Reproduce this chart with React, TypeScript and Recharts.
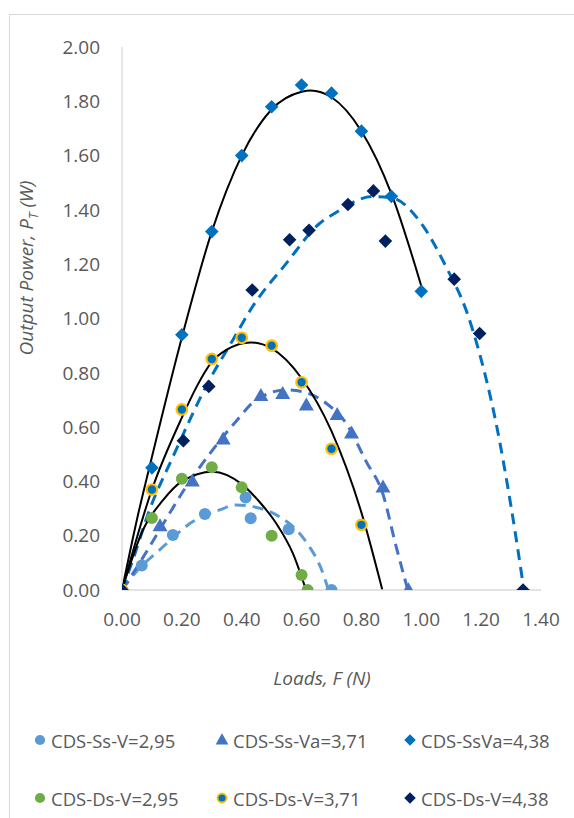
import React from 'react'
import { ComposedChart, Scatter, Line, XAxis, YAxis } from 'recharts'

// measured points (x = load F in N, y = output power in W)
const ssV295X = [0, 0.066, 0.17, 0.277, 0.413, 0.43, 0.557, 0.7]
const ssV295Y = [0, 0.09, 0.203, 0.28, 0.341, 0.264, 0.224, 0]

const ssVa371X = [0, 0.127, 0.235, 0.338, 0.464, 0.537, 0.616, 0.719, 0.767, 0.872, 0.957]
const ssVa371Y = [0, 0.236, 0.4, 0.555, 0.715, 0.723, 0.68, 0.645, 0.577, 0.378, 0]

const ssVa438X = [0, 0.1, 0.2, 0.3, 0.4, 0.5, 0.6, 0.7, 0.8, 0.9, 1.0]
const ssVa438Y = [0, 0.45, 0.94, 1.32, 1.6, 1.78, 1.86, 1.83, 1.69, 1.45, 1.1]

const dsV295X = [0, 0.1, 0.2, 0.3, 0.4, 0.5, 0.6, 0.62]
const dsV295Y = [0, 0.265, 0.41, 0.452, 0.378, 0.2, 0.055, 0]

const dsV371X = [0, 0.1, 0.2, 0.3, 0.4, 0.5, 0.6, 0.7, 0.8]
const dsV371Y = [0, 0.37, 0.665, 0.851, 0.929, 0.9, 0.765, 0.52, 0.24]

const dsV438X = [0, 0.205, 0.29, 0.435, 0.56, 0.625, 0.755, 0.84, 0.88, 1.11, 1.195, 1.34]
const dsV438Y = [0, 0.55, 0.75, 1.105, 1.29, 1.325, 1.42, 1.47, 1.285, 1.145, 0.945, 0]

// trend curves
const tSsV295X = [0, 0.05, 0.125, 0.237, 0.326, 0.381, 0.437, 0.526, 0.593, 0.626, 0.665, 0.69]
const tSsV295Y = [0, 0.07, 0.147, 0.252, 0.295, 0.313, 0.307, 0.27, 0.209, 0.16, 0.08, 0]

const tSsVa371X = [0, 0.058, 0.125, 0.214, 0.303, 0.38, 0.448, 0.549, 0.62, 0.682, 0.749, 0.816, 0.871, 0.916, 0.955]
const tSsVa371Y = [0, 0.098, 0.22, 0.38, 0.516, 0.62, 0.7, 0.737, 0.725, 0.688, 0.614, 0.473, 0.356, 0.16, 0]

const tSsVa438X = [0, 0.05, 0.1, 0.2, 0.3, 0.4, 0.5, 0.6, 0.63, 0.7, 0.8, 0.9, 1.0]
const tSsVa438Y = [0, 0.26, 0.49, 0.93, 1.32, 1.6, 1.77, 1.835, 1.84, 1.815, 1.69, 1.46, 1.12]

const tDsV295X = [0, 0.07, 0.137, 0.2, 0.303, 0.4, 0.459, 0.515, 0.571, 0.615]
const tDsV295Y = [0, 0.221, 0.331, 0.4, 0.436, 0.39, 0.325, 0.246, 0.135, 0]

const tDsV371X = [0, 0.1, 0.2, 0.25, 0.3, 0.35, 0.43, 0.5, 0.6, 0.7, 0.8, 0.87]
const tDsV371Y = [0, 0.37, 0.635, 0.75, 0.84, 0.885, 0.912, 0.89, 0.78, 0.585, 0.285, 0]

const tDsV438X = [0, 0.036, 0.092, 0.17, 0.292, 0.37, 0.437, 0.549, 0.66, 0.71, 0.837, 0.9, 1.004, 1.083, 1.15, 1.195, 1.25, 1.3, 1.339]
const tDsV438Y = [0, 0.11, 0.295, 0.49, 0.773, 0.92, 1.045, 1.203, 1.35, 1.387, 1.449, 1.445, 1.344, 1.19, 1.03, 0.87, 0.614, 0.307, 0.03]

const xTicks = [0, 0.2, 0.4, 0.6, 0.8, 1.0, 1.2, 1.4]
const yTicks = [0, 0.2, 0.4, 0.6, 0.8, 1.0, 1.2, 1.4, 1.6, 1.8, 2.0]

const legendNames = [
  'CDS-Ss-V=2,95', 'CDS-Ss-Va=3,71', 'CDS-SsVa=4,38',
  'CDS-Ds-V=2,95', 'CDS-Ds-V=3,71', 'CDS-Ds-V=4,38',
]

const zip = (xs: number[], ys: number[]) => xs.map((x, i) => ({ x, y: ys[i] }))

const FONT = '"Open Sans", sans-serif'
const TEXT = '#595959'

type Kind = 'circle' | 'triangle' | 'diamond' | 'ring'

function Marker({ kind, cx, cy, fill, s = 1 }: { kind: Kind; cx: number; cy: number; fill: string; s?: number }) {
  if (kind === 'circle') return <circle cx={cx} cy={cy} r={6 * s} fill={fill} />
  if (kind === 'ring') return <circle cx={cx} cy={cy} r={5.3 * s} fill="#0070C0" stroke="#FFC000" strokeWidth={2.2 * s} />
  if (kind === 'triangle') {
    const w = 7.5 * s, h = 13 * s
    return <polygon points={`${cx},${cy - h * 0.6} ${cx + w},${cy + h * 0.4} ${cx - w},${cy + h * 0.4}`} fill={fill} />
  }
  const d = 6.8 * s
  return <polygon points={`${cx},${cy - d} ${cx + d},${cy} ${cx},${cy + d} ${cx - d},${cy}`} fill={fill} />
}

const series: { data: { x: number; y: number }[]; kind: Kind; fill: string }[] = [
  { data: zip(ssV295X, ssV295Y), kind: 'circle', fill: '#5B9BD5' },
  { data: zip(ssVa371X, ssVa371Y), kind: 'triangle', fill: '#4472C4' },
  { data: zip(ssVa438X, ssVa438Y), kind: 'diamond', fill: '#0070C0' },
  { data: zip(dsV295X, dsV295Y), kind: 'circle', fill: '#70AD47' },
  { data: zip(dsV371X, dsV371Y), kind: 'ring', fill: '#0070C0' },
  { data: zip(dsV438X, dsV438Y), kind: 'diamond', fill: '#002060' },
]

const trends = [
  { data: zip(tSsV295X, tSsV295Y), stroke: '#5B9BD5', dash: true },
  { data: zip(tSsVa371X, tSsVa371Y), stroke: '#4472C4', dash: true },
  { data: zip(tDsV438X, tDsV438Y), stroke: '#0070C0', dash: true },
  { data: zip(tSsVa438X, tSsVa438Y), stroke: '#000000', dash: false },
  { data: zip(tDsV295X, tDsV295Y), stroke: '#000000', dash: false },
  { data: zip(tDsV371X, tDsV371Y), stroke: '#000000', dash: false },
]

const YTitle = () => (
  <text
    x={33} y={268} transform="rotate(-90, 33, 268)" textAnchor="middle"
    fill={TEXT} fontSize={19} fontStyle="italic" fontFamily={FONT}
  >
    Output Power, P<tspan dy={5} fontSize={13}>T</tspan><tspan dy={-5}>{'  (W)'}</tspan>
  </text>
)

const XTitle = () => (
  <text x={322} y={685} textAnchor="middle" fill={TEXT} fontSize={19} fontStyle="italic" fontFamily={FONT}>
    Loads, F (N)
  </text>
)

export default function App() {
  const legendX = [40, 222, 410]
  const legendY = [740, 798]
  return (
    <div style={{ position: 'fixed', left: 0, top: 0, width: 574, height: 818, background: '#fff', overflow: 'hidden' }}>
      <div style={{ position: 'absolute', left: 9, top: 14, width: 620, height: 900, border: '1px solid #D9D9D9' }} />
      <div style={{ position: 'absolute', left: 0, top: 0 }}>
        <ComposedChart width={574} height={700} margin={{ top: 47, right: 33, left: 62, bottom: 70 }}>
          <XAxis
            type="number" dataKey="x" domain={[0, 1.4]} ticks={xTicks} height={40}
            tickFormatter={(v: number) => v.toFixed(2)} allowDataOverflow
            axisLine={{ stroke: '#D9D9D9', strokeWidth: 1.3 }} tickLine={false} tickSize={6} tickMargin={17}
            tick={{ fill: TEXT, fontSize: 19, fontFamily: FONT }}
            label={<XTitle />}
          />
          <YAxis
            type="number" dataKey="y" domain={[0, 2]} ticks={yTicks} width={60}
            tickFormatter={(v: number) => v.toFixed(2)} allowDataOverflow
            axisLine={{ stroke: '#D9D9D9', strokeWidth: 1.3 }} tickLine={false} tickSize={6} tickMargin={16}
            tick={{ fill: TEXT, fontSize: 19, fontFamily: FONT }}
            label={<YTitle />}
          />
          {series.map((s, i) => (
            <Scatter
              key={'s' + i} data={s.data} dataKey="y" isAnimationActive={false}
              shape={(p: any) => <Marker kind={s.kind} cx={p.cx} cy={p.cy} fill={s.fill} />}
            />
          ))}
          {trends.map((t, i) => (
            <Line
              key={'t' + i} data={t.data} dataKey="y" type="monotone" dot={false} activeDot={false}
              stroke={t.stroke} strokeWidth={t.dash ? 3 : 2} strokeDasharray={t.dash ? '11 7' : undefined}
              isAnimationActive={false}
            />
          ))}
        </ComposedChart>
      </div>
      {legendNames.map((name, i) => {
        const row = Math.floor(i / 3)
        const col = i % 3
        const s = series[i]
        return (
          <div key={name} style={{ position: 'absolute', left: legendX[col] - 8, top: legendY[row] - 12, height: 24, display: 'flex', alignItems: 'center' }}>
            <svg width={16} height={16}><Marker kind={s.kind} cx={8} cy={8} fill={s.fill} s={0.85} /></svg>
            <span style={{ marginLeft: 3, fontFamily: FONT, fontSize: 18.5, color: TEXT, whiteSpace: 'nowrap' }}>{name}</span>
          </div>
        )
      })}
    </div>
  )
}
